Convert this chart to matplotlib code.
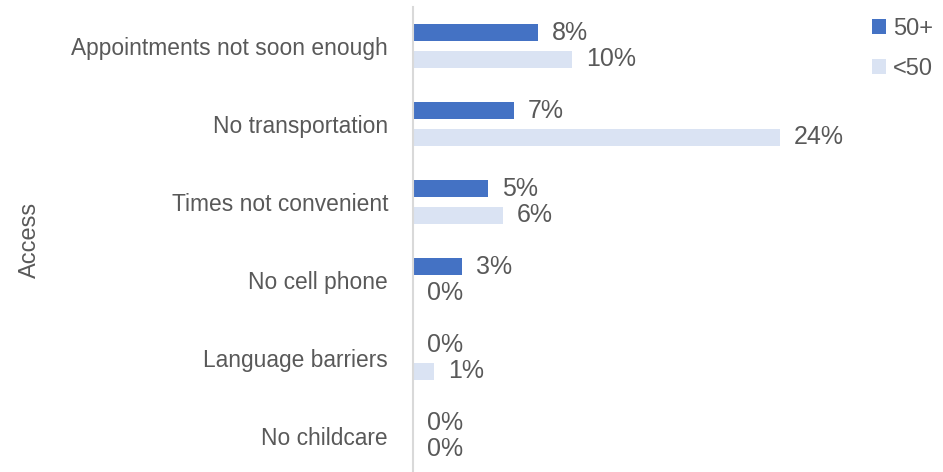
import numpy as np
import matplotlib
matplotlib.use("Agg")
import matplotlib.pyplot as plt
from matplotlib import font_manager

# values (percent)
categories = ["Appointments not soon enough", "No transportation", "Times not convenient",
              "No cell phone", "Language barriers", "No childcare"]
over50 = [8.2, 6.6, 4.9, 3.2, 0.0, 0.0]
under50 = [10.4, 24.0, 5.9, 0.0, 1.4, 0.0]
series_names = ["50+", "<50"]

dark = "#4472C4"
light = "#DAE3F3"
grey = "#595959"

names = {f.name for f in font_manager.fontManager.ttflist}
if "Liberation Sans Narrow" in names:
    fam, fs, fsv = "Liberation Sans Narrow", 20, 20
else:
    fam, fs, fsv = "Liberation Sans", 16.4, 18
plt.rcParams["font.family"] = [fam, "DejaVu Sans"]

fig = plt.figure(figsize=(9.43, 4.72), dpi=100)
ax = fig.add_axes([413/943, -3/472, 457/943, 468/472])

y = np.arange(len(categories))
off = 0.173
h = 0.23
b1 = ax.barh(y - off, over50, height=h, color=dark, label=series_names[0])
b2 = ax.barh(y + off, under50, height=h, color=light, label=series_names[1])

for bars, vals in [(b1, over50), (b2, under50)]:
    for rect, v in zip(bars, vals):
        ax.annotate(f"{round(v):d}%", (v, rect.get_y() + rect.get_height()/2),
                    xytext=(10, 0), textcoords="offset points",
                    va="center", ha="left", fontsize=fsv, color=grey)

ax.set_xlim(0, 457/15.3)
ax.set_ylim(len(categories) - 0.5, -0.5)
ax.set_yticks(y)
ax.set_yticklabels(categories, fontsize=fs, color=grey)
ax.tick_params(axis="y", length=0, pad=18)
ax.set_xticks([])
for s in ["top", "right", "bottom"]:
    ax.spines[s].set_visible(False)
ax.spines["left"].set_color("#D9D9D9")
ax.spines["left"].set_linewidth(1.5)

fig.text(30/943, 1 - 240/472, "Access", rotation=90, fontsize=17, color=grey,
         ha="center", va="center")

leg = fig.legend(handles=[b1, b2], loc="upper left", bbox_to_anchor=(872/943, 1 - 18/472),
                 frameon=False, fontsize=17, handlelength=0.6, handleheight=0.6,
                 handletextpad=0.3, labelspacing=0.75, borderaxespad=0, borderpad=0)
for t in leg.get_texts():
    t.set_color(grey)

fig.savefig("out.png", dpi=100)
